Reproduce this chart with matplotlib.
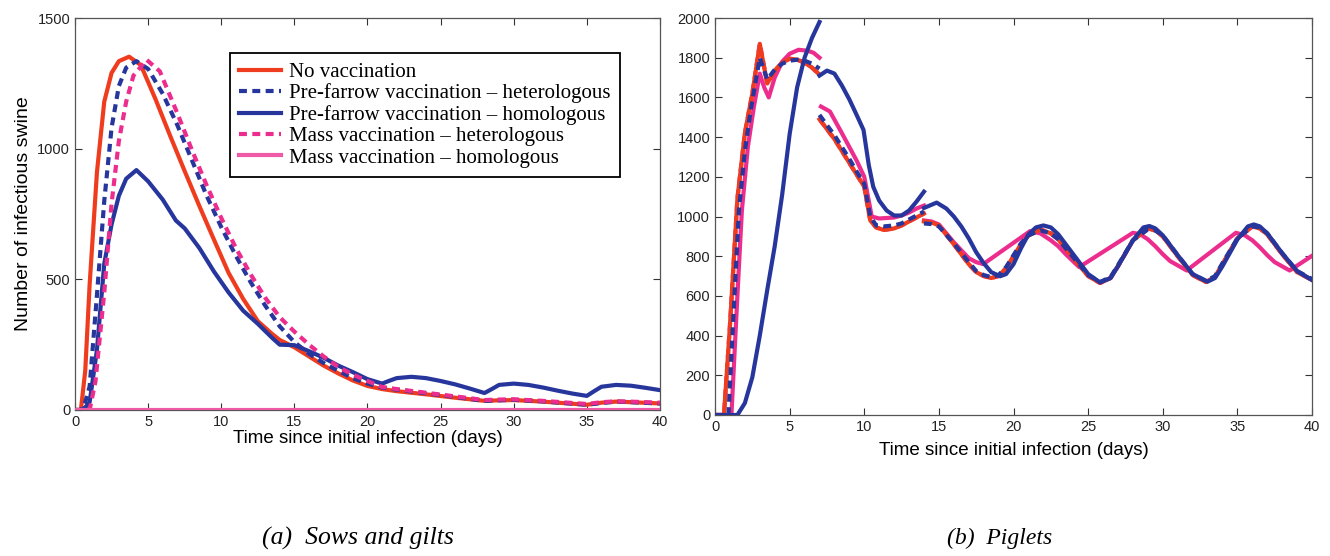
import numpy as np
import matplotlib
matplotlib.use('Agg')
import matplotlib.pyplot as plt

nan = np.nan

# ---- (a) sows and gilts ----
sow_nov_d = [0, 0.4, 0.7, 1.0, 1.5, 2.0, 2.5, 3.0, 3.7, 4.5, 5.5, 6.5, 7.5, 8.5, 9.5, 10.5, 11.5, 12.5, 13.5, 14,
             15, 16, 17, 18, 19, 20, 21, 22, 24, 26, 28, 29, 30, 32, 35, 36, 37, 38, 40]
sow_nov = [0, 0, 150, 480, 910, 1180, 1290, 1335, 1352, 1320, 1190, 1050, 914, 781, 652, 525, 425, 340, 290, 268,
           240, 205, 170, 140, 113, 92, 80, 72, 60, 47, 35, 37, 38, 32, 20, 28, 32, 30, 25]

sow_pfhet_d = [0, 0.4, 0.7, 1.0, 1.5, 2.0, 2.5, 3.0, 3.5, 4.2, 5.0, 6.0, 7.0, 8.0, 9.0, 10.0, 11.0, 12.0, 13.0, 14.0,
               15, 16, 17, 18, 19, 20, 21, 22, 24, 26, 28, 29, 30, 32, 35, 36, 37, 38, 40]
sow_pfhet = [0, 0, 30, 90, 440, 800, 1080, 1240, 1310, 1335, 1305, 1210, 1090, 955, 820, 700, 590, 490, 400, 320,
             260, 215, 180, 150, 122, 101, 86, 78, 64, 50, 35, 37, 39, 33, 20, 27, 32, 30, 25]

sow_pfhom_d = [0, 0.4, 0.7, 1.0, 1.5, 2.0, 2.5, 3.0, 3.5, 4.2, 5.0, 6.0, 6.9, 7.5, 8.5, 9.5, 10.5, 11.5, 12.5, 13.5,
               14, 15, 16, 17, 18, 19, 20, 21, 21.5, 22, 23, 24, 25, 26, 27, 28, 28.5, 29, 30, 31, 32, 33, 34, 35,
               35.5, 36, 37, 38, 39, 40]
sow_pfhom = [0, 0, 10, 30, 230, 560, 710, 820, 885, 918, 875, 805, 725, 695, 620, 530, 450, 380, 330, 275,
             250, 248, 225, 200, 170, 145, 118, 101, 112, 122, 127, 122, 111, 98, 82, 65, 80, 96, 101, 96, 86, 74,
             63, 54, 72, 89, 96, 93, 85, 76]

sow_mhet_d = [0, 1.0, 1.4, 2.0, 2.5, 3.0, 3.5, 4.0, 4.9, 5.8, 7.0, 8.0, 9.0, 10.0, 11.0, 12.0, 13.0, 14.0, 15, 16,
              17, 18, 19, 20, 21, 22, 24, 26, 28, 29, 30, 32, 35, 36, 37, 38, 40]
sow_mhet = [0, 0, 110, 450, 790, 1030, 1180, 1280, 1340, 1296, 1135, 994, 860, 735, 620, 520, 430, 355, 300, 250,
            205, 165, 135, 111, 88, 80, 66, 52, 38, 40, 41, 35, 23, 30, 33, 32, 28]

sow_mhom_d = [0, 40]
sow_mhom = [0, 0]

# ---- (b) piglets (weekly segments, nan = break) ----
pig_nov_d = [0, 0.6, 1.0, 1.5, 2.0, 2.5, 3.0, 3.5, 4.0, 4.5, 5.0, 5.5, 6.0, 6.5, 7.0, nan,
             7.0, 7.5, 8.0, 8.5, 9.0, 9.5, 10.0, 10.4, 10.8, 11.3, 12.0, 12.5, 13.0, 13.5, 14.0, nan,
             14.0, 14.5, 15.0, 16.0, 17.0, 17.5, 18.0, 18.5, 19.0, 19.5, 20.0, 20.5, 21.0, 21.8, 22.5, 23.0,
             24.0, 25.0, 25.8, 26.5, 27.0, 28.0, 29.0, 29.5, 30.0, 31.0, 32.0, 32.9, 33.5, 34.0, 35.0, 36.0,
             36.5, 37.0, 38.0, 39.0, 40.0]
pig_nov = [0, 0, 450, 1090, 1420, 1620, 1870, 1670, 1735, 1775, 1795, 1790, 1775, 1750, 1715, nan,
           1490, 1440, 1390, 1330, 1270, 1210, 1150, 980, 945, 932, 940, 955, 975, 995, 1015, nan,
           975, 970, 955, 860, 760, 720, 700, 690, 700, 740, 800, 860, 905, 935, 915, 885,
           790, 700, 665, 690, 750, 880, 940, 930, 900, 800, 705, 670, 695, 760, 890, 950,
           940, 910, 810, 720, 680]

pig_pfhet_d = [0, 0.9, 1.2, 1.6, 2.0, 2.4, 3.0, 3.5, 4.0, 4.5, 5.0, 5.5, 6.0, 6.5, 7.0, nan,
               7.0, 7.5, 8.0, 8.5, 9.0, 9.5, 10.0, 10.4, 10.8, 11.3, 12.0, 12.5, 13.0, 13.5, 14.0, nan,
               14.0, 14.5, 15.0, 16.0, 17.0, 17.5, 18.0, 18.5, 19.0, 19.5, 20.0, 20.5, 21.0, 21.8, 22.5, 23.0,
               24.0, 25.0, 25.8, 26.5, 27.0, 28.0, 29.0, 29.5, 30.0, 31.0, 32.0, 32.9, 33.5, 34.0, 35.0, 36.0,
               36.5, 37.0, 38.0, 39.0, 40.0]
pig_pfhet = [0, 0, 450, 1030, 1330, 1540, 1800, 1690, 1740, 1770, 1785, 1790, 1785, 1770, 1745, nan,
             1512, 1460, 1410, 1350, 1290, 1225, 1165, 1000, 955, 950, 955, 965, 985, 1005, 1025, nan,
             965, 962, 950, 865, 770, 725, 705, 695, 705, 745, 805, 865, 905, 930, 915, 885,
             795, 705, 670, 695, 755, 880, 935, 930, 905, 805, 710, 675, 700, 765, 890, 950,
             945, 915, 815, 725, 685]

pig_pfhom_d = [0, 1.5, 2.0, 2.5, 3.0, 3.5, 4.0, 4.5, 5.0, 5.5, 6.0, 6.5, 7.0, nan,
               7.0, 7.5, 8.0, 8.5, 9.0, 9.5, 9.95, 10.3, 10.6, 11.0, 11.5, 12.0, 12.5, 13.0, 13.5, 14.0, nan,
               14.0, 14.85, 15.5, 16.0, 16.5, 17.0, 17.5, 18.0, 18.5, 19.1, 19.5, 20.0, 20.5, 21.0, 21.5, 22.0,
               22.5, 23.0, 24.0, 25.0, 25.8, 26.5, 27.0, 28.0, 28.7, 29.1, 29.5, 30.0, 31.0, 32.0, 33.0, 33.5,
               34.0, 35.0, 35.7, 36.1, 36.5, 37.0, 38.0, 39.0, 40.0]
pig_pfhom = [0, 0, 60, 190, 400, 630, 850, 1110, 1415, 1650, 1800, 1900, 1980, nan,
             1710, 1735, 1720, 1660, 1590, 1510, 1436, 1260, 1150, 1080, 1030, 1005, 1005, 1030, 1075, 1125, nan,
             1043, 1070, 1040, 1000, 950, 890, 820, 765, 720, 699, 710, 760, 840, 910, 945, 955,
             945, 910, 810, 710, 668, 690, 750, 880, 945, 952, 940, 905, 805, 710, 672, 690,
             750, 885, 950, 960, 950, 915, 815, 725, 680]

pig_mhet_d = pig_nov_d
pig_mhet = pig_nov

pig_mhom_d = [0, 1.1, 1.5, 1.8, 2.2, 2.6, 3.0, 3.3, 3.6, 4.0, 4.5, 5.0, 5.6, 6.2, 6.6, 7.0, nan,
              7.1, 7.7, 8.5, 9.0, 9.5, 10.0, 10.5, 11.0, 12.0, 12.5, 13.0, 13.5, 14.0, nan,
              14.0, 14.5, 15.0, 16.0, 17.0, 17.5, 17.97, 21.1, 21.8, 22.5, 23.0, 23.5, 24.4, 28.0, 28.5, 29.0,
              29.5, 30.0, 30.5, 31.6, 34.9, 35.5, 36.0, 36.5, 37.0, 37.5, 38.5, 40.0]
pig_mhom = [0, 0, 600, 1030, 1350, 1550, 1720, 1650, 1600, 1700, 1780, 1820, 1840, 1835, 1825, 1800, nan,
            1554, 1529, 1420, 1350, 1280, 1200, 1000, 990, 995, 1005, 1020, 1040, 1055, nan,
            980, 975, 960, 870, 790, 770, 760, 926, 915, 880, 850, 810, 745, 918, 910, 885,
            850, 810, 775, 728, 918, 905, 880, 845, 805, 770, 728, 802]

labels = ["No vaccination", "Pre-farrow vaccination \u2013 heterologous",
          "Pre-farrow vaccination \u2013 homologous", "Mass vaccination \u2013 heterologous",
          "Mass vaccination \u2013 homologous"]

RED = '#F03C1E'
BLUE = '#27369C'
PINK = '#EC2D8E'
PINK2 = '#EE5AA6'
LW = 3.0
DASH = (1.9, 1.3)

plt.rcParams['font.family'] = ['Liberation Sans', 'DejaVu Sans']

fig = plt.figure(figsize=(13.3, 5.56), dpi=100)
ax1 = fig.add_axes([0.0564, 0.2626, 0.4398, 0.705])
ax2 = fig.add_axes([0.5376, 0.2536, 0.4489, 0.714])

# left
ax1.plot(sow_nov_d, sow_nov, color=RED, lw=LW, label=labels[0], zorder=2)
ax1.plot(sow_pfhet_d, sow_pfhet, color=BLUE, lw=LW, dashes=DASH, label=labels[1], zorder=3)
ax1.plot(sow_pfhom_d, sow_pfhom, color=BLUE, lw=LW, label=labels[2], zorder=4)
ax1.plot(sow_mhet_d, sow_mhet, color=PINK, lw=LW, dashes=DASH, label=labels[3], zorder=5)
ax1.plot(sow_mhom_d, sow_mhom, color=PINK2, lw=LW, label=labels[4], zorder=6)

# right
ax2.plot(pig_mhet_d, pig_mhet, color=PINK, lw=LW, dashes=DASH, zorder=2)
ax2.plot(pig_mhom_d, pig_mhom, color=PINK, lw=LW, zorder=3)
ax2.plot(pig_nov_d, pig_nov, color=RED, lw=LW, zorder=4)
ax2.plot(pig_pfhet_d, pig_pfhet, color=BLUE, lw=LW, dashes=DASH, zorder=5)
ax2.plot(pig_pfhom_d, pig_pfhom, color=BLUE, lw=LW, zorder=6)

for ax in (ax1, ax2):
    ax.set_xlim(0, 40)
    ax.set_xticks(range(0, 41, 5))
    ax.tick_params(direction='in', top=True, right=True, labelsize=10.5, length=5, width=0.8,
                   colors='#333333', labelcolor='#222222')
    for s in ax.spines.values():
        s.set_color('#555555')
        s.set_linewidth(0.9)
    ax.set_xlabel("Time since initial infection (days)", fontsize=13.5, labelpad=1)

ax1.set_ylim(0, 1500)
ax1.set_yticks([0, 500, 1000, 1500])
ax1.set_ylabel("Number of infectious swine", fontsize=14, labelpad=4)
ax2.set_ylim(0, 2000)
ax2.set_yticks(range(0, 2001, 200))
ax2.xaxis.labelpad = 6

leg = ax1.legend(loc='upper left', bbox_to_anchor=(0.265, 0.911), borderaxespad=0,
                 prop={'family': 'Liberation Serif', 'size': 15}, fancybox=False, framealpha=1,
                 edgecolor='black', handlelength=2.0, labelspacing=0.08, handletextpad=0.4,
                 borderpad=0.45)
leg.get_frame().set_linewidth(1.3)

fig.text(0.2695, 0.032, "(a)  Sows and gilts", fontsize=18.5, style='italic',
         family='Liberation Serif', ha='center', va='center')
fig.text(0.7515, 0.032, "(b)  Piglets", fontsize=17, style='italic',
         family='Liberation Serif', ha='center', va='center')

fig.savefig('out.png', dpi=100)
